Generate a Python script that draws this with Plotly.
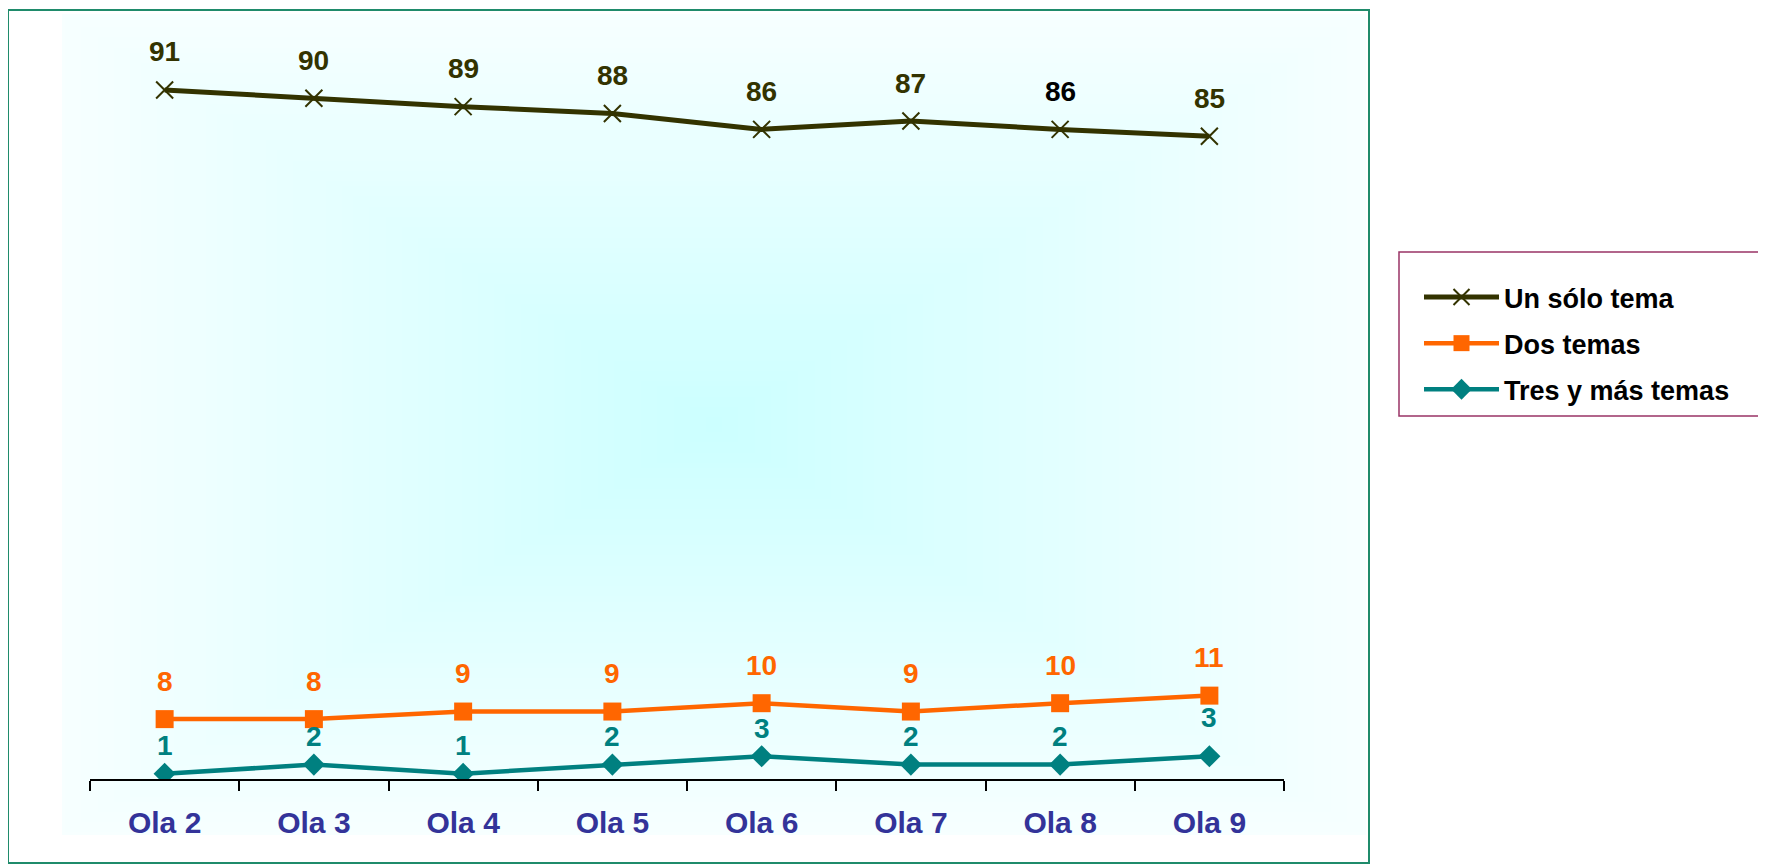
import zlib, struct, base64
import plotly.graph_objects as go

# ---------------- data ----------------
categories = ["Ola 2", "Ola 3", "Ola 4", "Ola 5", "Ola 6", "Ola 7", "Ola 8", "Ola 9"]
un_solo_tema = [90.9, 89.8, 88.7, 87.8, 85.7, 86.8, 85.7, 84.8]
dos_temas = [7.9, 7.9, 8.9, 8.9, 10.0, 8.9, 10.0, 11.0]
tres_y_mas = [0.7, 1.9, 0.7, 1.9, 3.0, 1.9, 1.9, 3.0]
series_names = ["Un sólo tema", "Dos temas", "Tres y más temas"]

# ---------------- geometry (page pixels; page has an 8px body margin) ----------------
OFF = 8
W, H = 1766 - OFF, 866 - OFF
PL, PR, PT, PB = 90, 1284, 21, 779          # plot area in page px
pw, ph = PR - PL, PB - PT


def px_x(p):
    return (p - PL) / pw


def px_y(p):
    return (PB - p) / ph


# ---------------- background gradient image ----------------
gw, gh = 240, 160
rows = []
for j in range(gh):
    row = bytearray([0])
    for i in range(gw):
        dx = abs((i + 0.5) / gw * 2 - 1)
        dy = abs((j + 0.5) / gh * 2 - 1)
        t = max(dx, dy)
        r = int(round(204 + (247 - 204) * t))
        row += bytes([r, 255, 255])
    rows.append(bytes(row))
raw = b"".join(rows)


def chunk(tag, data):
    return struct.pack(">I", len(data)) + tag + data + struct.pack(">I", zlib.crc32(tag + data) & 0xFFFFFFFF)


png = (b"\x89PNG\r\n\x1a\n" + chunk(b"IHDR", struct.pack(">IIBBBBB", gw, gh, 8, 2, 0, 0, 0))
       + chunk(b"IDAT", zlib.compress(raw, 9)) + chunk(b"IEND", b""))
src = "data:image/png;base64," + base64.b64encode(png).decode()

FONT = "Arial, 'Liberation Sans', sans-serif"

fig = go.Figure()

fig.add_trace(go.Scatter(
    x=categories, y=un_solo_tema, name=series_names[0], mode="lines+markers",
    line=dict(color="#333300", width=5),
    marker=dict(symbol="x-thin", size=17, line=dict(color="#333300", width=2), color="#333300"),
    legendgroup="a"))
fig.add_trace(go.Scatter(
    x=categories, y=dos_temas, name=series_names[1], mode="lines+markers",
    line=dict(color="#ff6600", width=4.5),
    marker=dict(symbol="square", size=18, color="#ff6600"),
    legendgroup="b"))
fig.add_trace(go.Scatter(
    x=categories, y=tres_y_mas, name=series_names[2], mode="lines+markers",
    line=dict(color="#008080", width=4.5),
    marker=dict(symbol="diamond", size=17, color="#008080"),
    legendgroup="c"))

annotations = []
label_cfg = [
    (un_solo_tema, ["#333300"] * 6 + ["#000000", "#333300"], [38] * 8),
    (dos_temas, ["#ff6600"] * 8, [38] * 8),
    (tres_y_mas, ["#008080"] * 8, [28] * 7 + [39]),
]
for vals, cols, shifts in label_cfg:
    for i, v in enumerate(vals):
        annotations.append(dict(
            x=categories[i], y=v, text=f"{v:.0f}", showarrow=False, yshift=shifts[i],
            font=dict(family=FONT, size=28, color=cols[i], weight="bold")))

shapes = [
    dict(type="rect", xref="paper", yref="paper",
         x0=px_x(8), x1=px_x(1369), y0=px_y(863), y1=px_y(10),
         line=dict(color="#1f8b6b", width=2), layer="above"),
    dict(type="rect", xref="paper", yref="paper",
         x0=px_x(1399), x1=px_x(1780), y0=px_y(416), y1=px_y(252),
         line=dict(color="#993366", width=1.5), layer="above"),
]

fig.update_layout(
    width=W, height=H,
    margin=dict(l=PL - OFF, r=W - (PR - OFF), t=PT - OFF, b=H - (PB - OFF), pad=0),
    paper_bgcolor="white", plot_bgcolor="rgba(0,0,0,0)",
    showlegend=True,
    legend=dict(x=px_x(1419), y=px_y(273), xanchor="left", yanchor="top",
                bgcolor="rgba(0,0,0,0)", borderwidth=0,
                font=dict(family=FONT, size=27, color="#000000", weight="bold"),
                tracegroupgap=8, itemwidth=75, traceorder="grouped"),
    images=[dict(source=src, xref="paper", yref="paper",
                 x=px_x(62), y=px_y(14), sizex=(1366 - 62) / pw, sizey=(835 - 14) / ph,
                 xanchor="left", yanchor="top", sizing="stretch", layer="below")],
    shapes=shapes,
    annotations=annotations,
    xaxis=dict(type="category", range=[-0.5, 7.5],
               tickson="boundaries", ticks="outside", ticklen=10, tickwidth=2, tickcolor="black",
               showline=True, linecolor="black", linewidth=2, showgrid=False, zeroline=False,
               tickfont=dict(family=FONT, size=30, color="#333399", weight="bold"),
               ticklabelstandoff=16),
    yaxis=dict(range=[0, 100], visible=False, showgrid=False, zeroline=False),
)

fig.write_html("out.html")
